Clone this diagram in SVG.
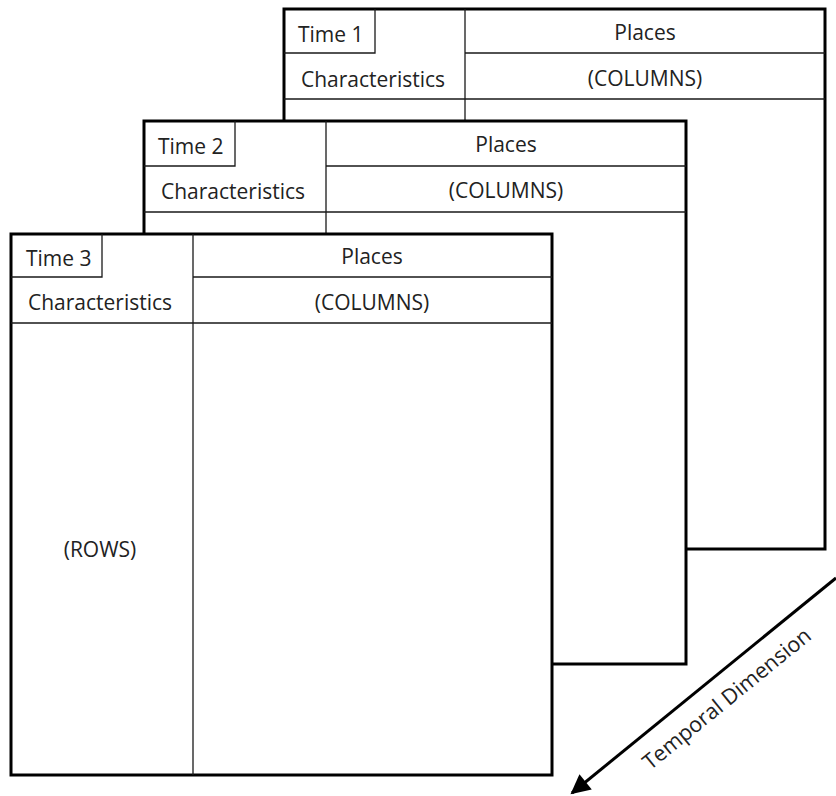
<svg xmlns="http://www.w3.org/2000/svg" width="836" height="796" viewBox="0 0 836 796">
  <style>
    .frame { fill: #ffffff; stroke: #000000; stroke-width: 3; }
    .rule { stroke: #1a1a1a; stroke-width: 1.3; fill: none; }
    .lbl { font-family: "Open Sans", "Liberation Sans", sans-serif; font-size: 21px; fill: #222222; }
    .mid { text-anchor: middle; }
    .axis { stroke: #000000; stroke-width: 3; fill: none; }
  </style>
  <defs>
    <marker id="arrowhead" viewBox="0 0 10 10" refX="9" refY="5" markerWidth="7" markerHeight="6.5" orient="auto" markerUnits="strokeWidth">
      <path d="M0,0 L10,5 L0,10 z" fill="#000000"/>
    </marker>
  </defs>

  <!-- Time 1 (back) -->
  <g id="table-time1" transform="translate(284,9)">
    <rect class="frame" x="0" y="0" width="541" height="540"/>
    <path class="rule" d="M0,44 H91 V0 M181,44 H541 M0,90 H541 M181,0 V540"/>
    <text class="lbl" x="14" y="33">Time 1</text>
    <text class="lbl mid" x="89" y="78">Characteristics</text>
    <text class="lbl mid" x="361" y="31">Places</text>
    <text class="lbl mid" x="361" y="77">(COLUMNS)</text>
  </g>

  <!-- Time 2 (middle) -->
  <g id="table-time2" transform="translate(144,121)">
    <rect class="frame" x="0" y="0" width="542" height="543"/>
    <path class="rule" d="M0,45 H91 V0 M182,45 H542 M0,91 H542 M182,0 V543"/>
    <text class="lbl" x="14" y="33">Time 2</text>
    <text class="lbl mid" x="89" y="78">Characteristics</text>
    <text class="lbl mid" x="362" y="31">Places</text>
    <text class="lbl mid" x="362" y="77">(COLUMNS)</text>
  </g>

  <!-- Time 3 (front) -->
  <g id="table-time3" transform="translate(11,234)">
    <rect class="frame" x="0" y="0" width="541" height="541"/>
    <path class="rule" d="M0,43 H91 V0 M182,43 H541 M0,89 H541 M182,0 V541"/>
    <text class="lbl" x="15" y="32">Time 3</text>
    <text class="lbl mid" x="89" y="76">Characteristics</text>
    <text class="lbl mid" x="361" y="30">Places</text>
    <text class="lbl mid" x="361" y="76">(COLUMNS)</text>
    <text class="lbl mid" x="89" y="323">(ROWS)</text>
  </g>

  <!-- Temporal axis -->
  <g id="connectors">
    <line class="axis" x1="836" y1="578" x2="572" y2="793" marker-end="url(#arrowhead)"/>
    <text class="lbl mid" x="727" y="706" transform="rotate(-39.2 727 699)" style="font-size:21.5px">Temporal Dimension</text>
  </g>
</svg>
